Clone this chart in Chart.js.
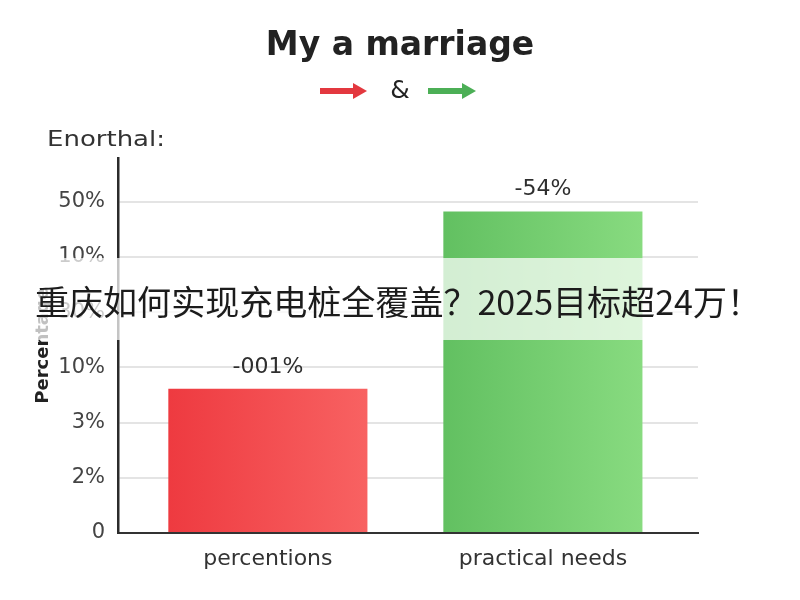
<!DOCTYPE html>
<html>
<head>
<meta charset="utf-8">
<script src="https://cdn.jsdelivr.net/npm/chart.js@4"></script>
<style>
  html, body { margin: 0; padding: 0; background: #fff; }
  #wrap { width: 800px; height: 600px; position: relative; }
</style>
</head>
<body>
<div id="wrap"><canvas id="myChart"></canvas></div>
<script>
const categories = ["percentions", "practical needs"];
const values = [2.61, 5.82];
const valueLabels = ["-001%", "-54%"];
const tickLabels = ["0", "2%", "3%", "10%", "30%", "10%", "50%"];

const barColors = [
  ["#ee3a40", "#f86262"],
  ["#62c061", "#88db80"],
];

const ctx = document.getElementById("myChart").getContext("2d");

function barFill(context) {
  const chart = context.chart;
  const i = context.dataIndex;
  const pair = barColors[i] || barColors[0];
  if (!chart.chartArea || !chart.scales.x) return pair[0];
  const cx = chart.scales.x.getPixelForValue(i);
  const g = chart.ctx.createLinearGradient(cx - 100, 0, cx + 100, 0);
  g.addColorStop(0, pair[0]);
  g.addColorStop(1, pair[1]);
  return g;
}

const overlay = {
  id: "overlay",
  afterDraw(chart) {
    const c = chart.ctx;
    c.save();

    // arrows around the "&"
    function arrow(x0, x1, y, color) {
      c.fillStyle = color;
      c.fillRect(x0, y - 3, x1 - x0 - 12, 6);
      c.beginPath();
      c.moveTo(x1 - 14, y - 8);
      c.lineTo(x1, y);
      c.lineTo(x1 - 14, y + 8);
      c.closePath();
      c.fill();
    }
    arrow(320, 367, 91, "#e3383f");
    arrow(428, 476, 91, "#4caf56");

    // caption above the axis
    c.font = '21px "DejaVu Sans"';
    c.fillStyle = "#333";
    c.textBaseline = "middle";
    c.textAlign = "left";
    const capW = c.measureText("Enorthal:").width;
    c.translate(47, 141);
    c.scale(118 / capW, 1);
    c.fillText("Enorthal:", 0, 0);
    c.setTransform(1, 0, 0, 1, 0, 0);

    // value labels above bars
    const meta = chart.getDatasetMeta(0);
    c.font = '22px "DejaVu Sans"';
    c.fillStyle = "#2e2e2e";
    c.textAlign = "center";
    meta.data.forEach((bar, i) => {
      c.fillText(valueLabels[i], bar.x, bar.y - 22);
    });

    // translucent band with headline
    c.fillStyle = "rgba(255,255,255,0.72)";
    c.fillRect(0, 258, 800, 82);
    const head = "重庆如何实现充电桩全覆盖？2025目标超24万！";
    c.font = '32px "Noto Sans CJK SC"';
    c.fillStyle = "#1c1c1c";
    c.textAlign = "left";
    const w = c.measureText(head).width;
    c.translate(35, 302);
    c.scale(726 / w, 1.05);
    c.fillText(head, 0, 0);
    c.restore();
  },
};

const data = {
  datasets: [
    {
      data: values.map((v, i) => ({ x: i, y: v })),
      backgroundColor: barFill,
      borderWidth: 0,
      barPercentage: 0.724,
      categoryPercentage: 1,
    },
  ],
};

const config = {
  type: "bar",
  data: data,
  options: {
    responsive: true,
    maintainAspectRatio: false,
    animation: false,
    layout: { padding: 0 },
    plugins: {
      legend: { display: false },
      tooltip: { enabled: false },
      title: {
        display: true,
        text: "My a marriage",
        color: "#222",
        font: { family: "DejaVu Sans", size: 33, weight: "bold" },
        padding: { top: 27, bottom: 7 },
      },
      subtitle: {
        display: true,
        text: "&",
        color: "#222",
        font: { family: "DejaVu Sans", size: 25 },
        padding: { top: 3, bottom: 52 },
      },
    },
    scales: {
      x: {
        type: "linear",
        offset: false,
        min: -0.545,
        max: 1.564,
        afterBuildTicks: (s) => {
          s.ticks = categories.map((_, i) => ({ value: i }));
        },
        afterFit: (s) => {
          s.height = 67;
        },
        ticks: {
          callback: (v) => categories[v],
          color: "#333",
          font: { family: "DejaVu Sans", size: 22 },
          padding: 5,
          maxRotation: 0,
          autoSkip: false,
        },
        grid: { display: false, offset: false },
        border: { display: true, color: "#333", width: 2 },
      },
      y: {
        min: 0,
        max: 6.78,
        afterBuildTicks: (s) => {
          s.ticks = tickLabels.map((_, i) => ({ value: i }));
        },
        afterFit: (s) => {
          s.width = 118;
        },
        ticks: {
          callback: (v) => tickLabels[v],
          color: "#444",
          font: { family: "DejaVu Sans", size: 21 },
          padding: 13,
          autoSkip: false,
        },
        grid: { color: "#e4e4e4", lineWidth: 2, drawTicks: false },
        border: { display: true, color: "#2b2b2b", width: 2.5 },
        title: {
          display: true,
          text: "Percentage",
          color: "#222",
          font: { family: "DejaVu Sans", size: 18, weight: "bold" },
          padding: { top: 33, bottom: 0 },
        },
      },
      // empty right-hand margin so the plot ends where the reference's does
      yRight: {
        position: "right",
        display: true,
        afterFit: (s) => {
          s.width = 102;
        },
        ticks: { display: false },
        grid: { display: false },
        border: { display: false },
      },
    },
  },
  plugins: [overlay],
};

const myChart = new Chart(ctx, config);
</script>
</body>
</html>
